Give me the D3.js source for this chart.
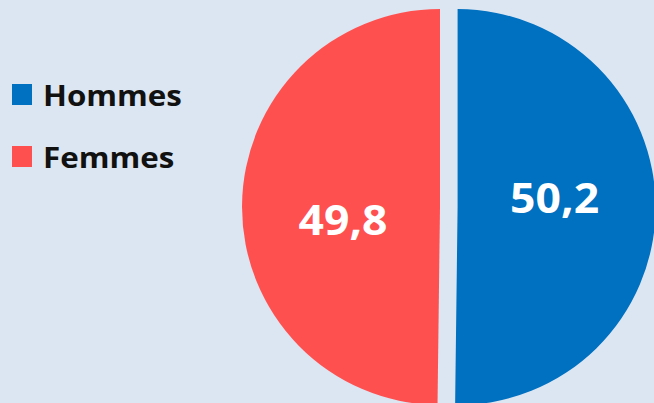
<!DOCTYPE html>
<meta charset="utf-8" />
<script src="https://d3js.org/d3.v7.min.js"></script>
<body style="margin: 0; background-color: #dce6f2">
  <div id="chart"></div>
  <script>
    // data
    var categories = ["Hommes", "Femmes"];
    var values = [50.2, 49.8];
    var labels = ["50,2", "49,8"];
    var colors = ["#0070c0", "#ff5050"];

    var width = 654,
      height = 403;
    var cx = 440,
      cy = 207,
      radius = 198,
      explode = 17.6;

    var svg = d3
      .select("#chart")
      .append("svg")
      .attr("width", width)
      .attr("height", height)
      .style("display", "block");

    svg
      .append("rect")
      .attr("width", width)
      .attr("height", height)
      .attr("fill", "#dce6f2");

    var pie = d3.pie().sort(null).startAngle(0).endAngle(2 * Math.PI);
    var arcs = pie(values);

    var arc = d3.arc().innerRadius(0).outerRadius(radius);
    var labelArc = d3.arc().innerRadius(97 * 2).outerRadius(0);

    // only the first slice (Hommes) is pulled out
    var explodeBy = [explode, 0];
    var labelNudge = [-10, 13];

    var g = svg
      .append("g")
      .attr("transform", "translate(" + cx + "," + cy + ")");

    var slice = g
      .selectAll("g.slice")
      .data(arcs)
      .enter()
      .append("g")
      .attr("class", "slice")
      .attr("transform", function (d, i) {
        var a = (d.startAngle + d.endAngle) / 2;
        var dx = Math.sin(a) * explodeBy[i];
        var dy = -Math.cos(a) * explodeBy[i];
        return "translate(" + dx + "," + dy + ")";
      });

    slice
      .append("path")
      .attr("d", arc)
      .attr("fill", function (d, i) {
        return colors[i];
      });

    slice
      .append("text")
      .attr("transform", function (d, i) {
        var c = labelArc.centroid(d);
        return (
          "translate(" + c[0] + "," + (c[1] + labelNudge[i]) + ") scale(1.06,1)"
        );
      })
      .attr("text-anchor", "middle")
      .attr("dy", "0.36em")
      .style("font-family", "'Open Sans', sans-serif")
      .style("font-weight", "bold")
      .style("font-size", "42px")
      .style("fill", "#ffffff")
      .text(function (d, i) {
        return labels[i];
      });

    // legend
    var legend = svg
      .selectAll("g.legend")
      .data(categories)
      .enter()
      .append("g")
      .attr("class", "legend")
      .attr("transform", function (d, i) {
        return "translate(12," + (84 + i * 62) + ")";
      });

    legend
      .append("rect")
      .attr("width", 20)
      .attr("height", 21)
      .attr("fill", function (d, i) {
        return colors[i];
      });

    legend
      .append("text")
      .attr("transform", "translate(31,21.5) scale(1.08,1)")
      .style("font-family", "'Open Sans', sans-serif")
      .style("font-weight", "bold")
      .style("font-size", "29px")
      .style("fill", "#111111")
      .text(function (d) {
        return d;
      });
  </script>
</body>
